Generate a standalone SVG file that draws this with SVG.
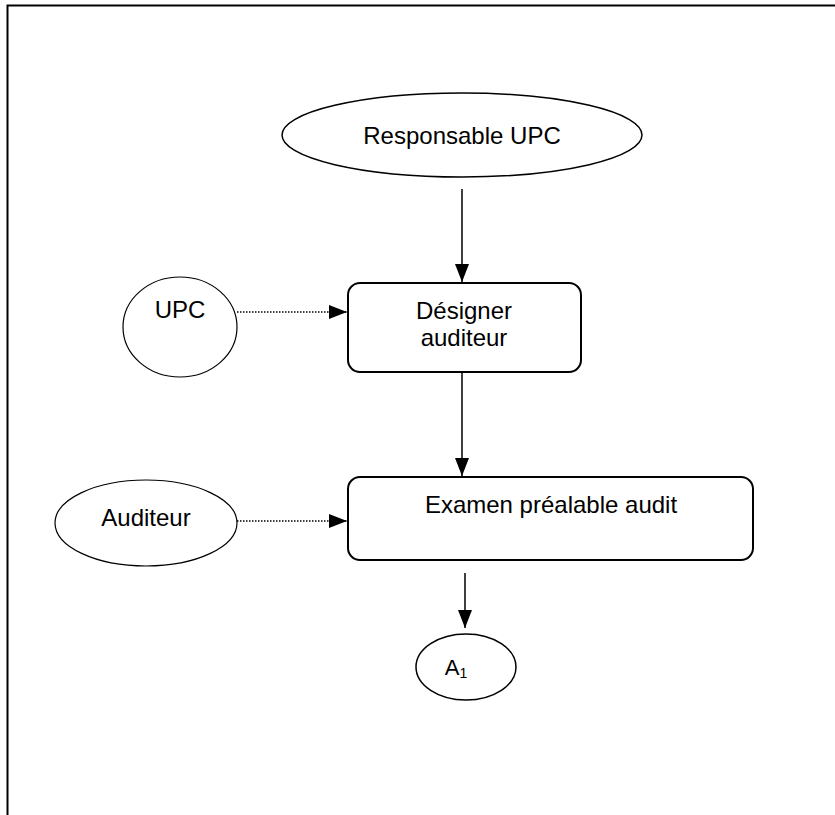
<svg xmlns="http://www.w3.org/2000/svg" width="835" height="815" viewBox="0 0 835 815">
<defs>
<style>
text{font-family:"Liberation Sans",Arial,sans-serif;font-size:24px;fill:#000;text-anchor:middle}
.box{fill:#fff;stroke:#000;stroke-width:2}
.ell{fill:#fff;stroke:#000;stroke-width:1.2}
.solid{stroke:#000;stroke-width:1.5;fill:none}
.dot{stroke:#000;stroke-width:1.4;stroke-dasharray:1.5 1.5;fill:none}
</style>
<marker id="ah" viewBox="0 0 18 14" refX="18" refY="7" markerUnits="userSpaceOnUse" markerWidth="18" markerHeight="14" orient="auto">
<path d="M0,0 L18,7 L0,14 Z" fill="#000"/>
</marker>
</defs>
<rect width="835" height="815" fill="#fff"/>
<g id="frame"><path d="M7.5,815 V5.5 H835" fill="none" stroke="#000" stroke-width="2"/></g>
<g id="connectors">
<line class="solid" x1="462" y1="189" x2="462" y2="282" marker-end="url(#ah)"/>
<line class="solid" x1="462" y1="373" x2="462" y2="476" marker-end="url(#ah)"/>
<line class="solid" x1="465" y1="573" x2="465" y2="628" marker-end="url(#ah)"/>
<line class="dot" x1="237" y1="312" x2="347" y2="312" marker-end="url(#ah)"/>
<line class="dot" x1="237" y1="521" x2="347" y2="521" marker-end="url(#ah)"/>
</g>
<g id="responsable">
<ellipse class="ell" cx="462" cy="135" rx="180" ry="42" style="stroke-width:1.5"/>
<text x="462" y="144">Responsable UPC</text>
</g>
<g id="upc">
<ellipse class="ell" cx="180" cy="327" rx="57" ry="50"/>
<text x="180" y="318">UPC</text>
</g>
<g id="designer">
<rect class="box" x="348" y="283" width="233" height="89" rx="12"/>
<text x="464" y="319">Désigner</text>
<text x="464" y="346">auditeur</text>
</g>
<g id="auditeur">
<ellipse class="ell" cx="146" cy="523" rx="91" ry="43"/>
<text x="146" y="526">Auditeur</text>
</g>
<g id="examen">
<rect class="box" x="348" y="477" width="405" height="83" rx="12"/>
<text x="551" y="513">Examen préalable audit</text>
</g>
<g id="a1">
<ellipse class="ell" cx="466" cy="667" rx="50" ry="33" style="stroke-width:1.5"/>
<text x="456" y="675" style="font-size:22px">A<tspan style="font-size:14px" dy="3">1</tspan></text>
</g>
</svg>
